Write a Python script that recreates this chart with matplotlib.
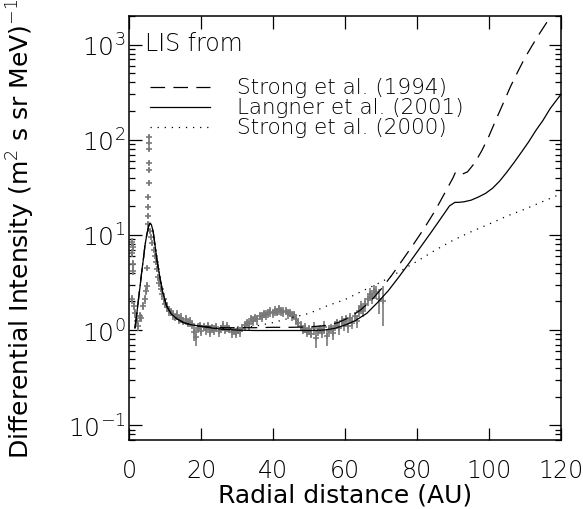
import matplotlib
matplotlib.use('Agg')
import matplotlib.pyplot as plt
import numpy as np

plt.rcParams['font.family'] = ['DejaVu Sans']
plt.rcParams['font.weight'] = 'light'
plt.rcParams['mathtext.fontset'] = 'custom'
plt.rcParams['mathtext.rm'] = 'DejaVu Sans:light'
plt.rcParams['mathtext.it'] = 'DejaVu Sans:light'
plt.rcParams['lines.scale_dashes'] = False

# model curves (LIS from ...)
lang_x = [1.5, 2.0, 2.5, 3.0, 3.4, 3.9, 4.3, 4.8, 5.3, 5.7, 6.1, 6.6, 7.1, 7.6, 8.1, 8.5,
          9.2, 10.3, 11.5, 13.1, 15, 17, 19.6, 23, 26, 30, 35, 40, 45, 50, 54, 57, 60,
          63, 66, 69, 72, 75, 78, 81, 84, 87, 89, 90.5, 91.5, 93, 95, 97, 99, 101, 103,
          105, 107, 109, 111, 113, 115, 117, 119, 120]
lang_y = [1.05, 1.45, 2.1, 3.0, 4.1, 5.7, 7.7, 10, 12.3, 13.3, 12.8, 10.8, 7.8, 5.6, 4.3, 3.5,
          2.55, 1.8, 1.5, 1.32, 1.2, 1.14, 1.1, 1.05, 1.02, 1.0, 0.99, 0.99, 0.99, 0.99, 1.0, 1.04, 1.13,
          1.27, 1.5, 1.95, 2.6, 3.65, 5.2, 7.5, 10.8, 15.7, 20.2, 22, 22, 22.3, 23.2, 25, 27.3, 31, 37,
          46, 58, 74, 95, 125, 160, 213, 268, 300]

s94_x = [1.5, 2.0, 2.5, 3.0, 3.4, 3.9, 4.3, 4.8, 5.3, 5.7, 6.1, 6.6, 7.1, 7.6, 8.1, 8.5,
         9.2, 10.3, 11.5, 13.1, 15, 17, 19.6, 23, 26, 30, 35, 40, 45, 50, 55, 58, 61, 64,
         67, 70, 73, 76, 79, 82, 85, 88, 90, 90.7, 91.5, 92.5, 94, 96, 98, 100, 102, 104,
         106, 108, 110, 112, 114, 116, 118, 120]
s94_y = [1.05, 1.45, 2.1, 3.0, 4.1, 5.7, 7.7, 10, 12.3, 13.3, 12.8, 10.8, 7.8, 5.6, 4.3, 3.5,
         2.55, 1.8, 1.5, 1.32, 1.2, 1.14, 1.1, 1.07, 1.06, 1.06, 1.06, 1.07, 1.07, 1.08, 1.12, 1.2,
         1.35, 1.6, 2.0, 2.7, 3.8, 5.5, 8.0, 11.8, 18, 29, 40, 46, 44.5, 43.5, 46, 57, 77, 110,
         165, 245, 365, 520, 730, 980, 1300, 1700, 2200, 2800]

s00_x = [1.5, 2.0, 2.5, 3.0, 3.4, 3.9, 4.3, 4.8, 5.3, 5.7, 6.1, 6.6, 7.1, 7.6, 8.1, 8.5,
         9.2, 10.3, 11.5, 13.1, 15, 17, 19.6, 23, 26, 30, 35, 40, 45, 50, 55, 60, 65, 70,
         75, 80, 85, 90, 95, 100, 105, 110, 115, 120]
s00_y = [1.05, 1.45, 2.1, 3.0, 4.1, 5.7, 7.7, 10, 12.3, 13.3, 12.8, 10.8, 7.8, 5.6, 4.3, 3.5,
         2.55, 1.8, 1.5, 1.32, 1.2, 1.14, 1.1, 1.06, 1.04, 1.05, 1.1, 1.2, 1.35, 1.5, 1.8, 2.1,
         2.6, 3.2, 4.1, 5.3, 6.9, 8.8, 10.8, 13, 15.8, 18.7, 22.5, 27]

# observations
obs_x = [0.6, 0.7, 0.8, 0.9, 1.0, 1.1, 1.3, 1.6, 2.0, 2.4, 2.9, 3.3, 3.8, 4.2, 4.6, 4.9,
         5.0, 5.1, 5.15, 5.2, 5.25, 5.3, 5.35, 5.4, 5.45, 5.5, 5.55,
         5.8, 6.1, 6.4, 6.7, 7.0, 7.4, 7.7, 8.0, 8.3, 8.7, 9.1, 9.5, 10.0, 10.5, 11.0, 11.5,
         12.0, 12.6, 13.2, 13.8, 14.4, 15.0, 15.6, 16.2, 16.8, 17.4, 18.0, 18.5, 19.0, 19.5,
         20.0, 20.6, 21.2, 21.8, 22.4, 23.0, 23.6, 24.2, 24.8, 25.4, 26.0, 26.6, 27.2, 27.8,
         28.4, 29.0, 29.6, 30.2, 30.8, 31.4, 32.0, 32.6, 33.2, 33.8, 34.4, 35.0, 35.6, 36.2,
         36.8, 37.4, 38.0, 38.6, 39.2, 39.8, 40.4, 41.0, 41.6, 42.2, 42.8, 43.4, 44.0, 44.6,
         45.2, 45.8, 46.4, 47.0, 47.6, 48.2, 48.8, 49.4, 50.0, 50.6, 51.2, 51.8, 52.4, 53.0,
         53.6, 54.2, 54.8, 55.4, 56.0, 56.6, 57.2, 57.8, 58.4, 59.0, 59.6, 60.2, 60.8, 61.4,
         62.0, 62.6, 63.2, 63.8, 64.4, 65.0, 65.6, 66.2, 66.8, 67.4, 68.0, 68.6, 69.3, 70.6]
obs_y = [8.5, 2.1, 6.5, 5.0, 4.2, 7.5, 1.8, 1.5, 1.25, 1.1, 1.4, 1.35, 1.8, 2.1, 2.6, 2.9,
         4.5, 13, 16, 19.8, 25, 35, 48, 57, 80, 92, 106,
         11, 9.5, 8.2, 7.0, 6.0, 5.2, 4.4, 3.6, 3.1, 2.7, 2.4, 2.1, 1.9, 1.75, 1.6, 1.55,
         1.45, 1.38, 1.45, 1.3, 1.35, 1.25, 1.3, 1.2, 1.22, 1.15, 0.95, 0.85, 1.05, 1.1,
         0.98, 1.08, 1.02, 1.1, 0.96, 1.05, 1.0, 1.07, 0.97, 1.04, 1.1, 1.0, 1.08, 1.03,
         0.95, 0.98, 0.93, 1.0, 0.97, 1.05, 1.12, 1.2, 1.15, 1.3, 1.25, 1.35, 1.3, 1.42,
         1.38, 1.48, 1.45, 1.5, 1.55, 1.5, 1.6, 1.55, 1.65, 1.58, 1.55, 1.6, 1.5, 1.52,
         1.42, 1.45, 1.3, 1.2, 1.1, 1.0, 1.05, 0.95, 1.02, 0.92, 1.05, 0.82, 0.98, 1.02,
         0.95, 1.08, 0.86, 1.0, 1.05, 0.93, 1.1, 1.2, 1.05, 1.25, 1.15, 1.3, 1.1, 1.35,
         1.2, 1.4, 1.25, 1.6, 1.75, 1.6, 1.9, 2.1, 2.4, 2.2, 2.6, 2.5, 2.1, 2.0]
obs_err = [0.1, 0.1, 0.1, 0.1, 0.1, 0.1, 0.1, 0.1, 0.12, 0.1, 0.1, 0.1, 0.1, 0.1, 0.1, 0.1,
           0.05, 0.05, 0.05, 0.05, 0.05, 0.05, 0.05, 0.05, 0.05, 0.05, 0.05,
           0.05, 0.05, 0.05, 0.06, 0.06, 0.06, 0.07, 0.08, 0.08, 0.08, 0.1, 0.1, 0.1, 0.12, 0.12, 0.1,
           0.12, 0.1, 0.12, 0.1, 0.12, 0.1, 0.12, 0.1, 0.12, 0.1, 0.2, 0.2, 0.12, 0.1,
           0.12, 0.1, 0.12, 0.1, 0.12, 0.1, 0.12, 0.1, 0.12, 0.1, 0.12, 0.1, 0.12, 0.1,
           0.12, 0.1, 0.12, 0.1, 0.12, 0.1, 0.12, 0.1, 0.12, 0.1, 0.12, 0.1, 0.12, 0.1,
           0.12, 0.1, 0.12, 0.1, 0.12, 0.1, 0.12, 0.1, 0.12, 0.1, 0.12, 0.1, 0.12, 0.1,
           0.12, 0.1, 0.12, 0.1, 0.12, 0.1, 0.12, 0.1, 0.12, 0.1, 0.15, 0.2, 0.12, 0.1,
           0.12, 0.15, 0.2, 0.12, 0.1, 0.15, 0.12, 0.1, 0.15, 0.12, 0.15, 0.12, 0.15, 0.12,
           0.15, 0.12, 0.15, 0.15, 0.15, 0.15, 0.15, 0.15, 0.15, 0.15, 0.15, 0.15, 0.3, 0.45]

y_ticks = [0.1, 1, 10, 100, 1000]
y_ticklabels = [r'$10^{-1}$', r'$10^{0}$', r'$10^{1}$', r'$10^{2}$', r'$10^{3}$']
x_ticks = [0, 20, 40, 60, 80, 100, 120]

fig = plt.figure(figsize=(5.83, 5.10), dpi=100)
ax = fig.add_axes([0.2221, 0.1353, 0.7401, 0.8314])

oy = np.array(obs_y)
ax.errorbar(obs_x, obs_y, yerr=oy * np.array(obs_err), fmt='+', color='#7a7a7a',
            ms=5, mew=1.2, elinewidth=1.2, capsize=0, zorder=2)

styles = [dict(dashes=(10.5, 6)), dict(), dict(dashes=(0.9, 4.2))]
names = ['Strong et al. (1994)', 'Langner et al. (2001)', 'Strong et al. (2000)']
for (cx, cy), st in zip([(s94_x, s94_y), (lang_x, lang_y), (s00_x, s00_y)], styles):
    ax.plot(cx, cy, color='black', lw=0.9, zorder=3, **st)

# legend drawn by hand, in axes fractions
ax.text(0.036, 0.936, 'LIS from', transform=ax.transAxes, fontsize=17,
        ha='left', va='center')
for i, (name, st) in enumerate(zip(names, styles)):
    yy = 0.8325 - i * 0.0471
    ax.plot([0.0475, 0.1866], [yy, yy], transform=ax.transAxes, color='black',
            lw=0.9, **st)
    ax.text(0.249, yy, name, transform=ax.transAxes, fontsize=15.5,
            ha='left', va='center')

ax.set_yscale('log')
ax.set_xlim(0, 120)
ax.set_ylim(0.07, 2000)
ax.set_yticks(y_ticks, labels=y_ticklabels)
ax.set_xticks(x_ticks)
ax.tick_params(axis='both', which='major', direction='in', length=9, width=0.9,
               top=True, right=True, labelsize=17)
ax.tick_params(axis='x', pad=13)
ax.tick_params(axis='y', pad=3, labelsize=18)
ax.tick_params(axis='y', which='minor', direction='in', length=4.5, width=0.9,
               left=True, right=True)
for s in ax.spines.values():
    s.set_linewidth(1.1)

ax.set_xlabel('Radial distance (AU)', fontsize=18)
ax.set_ylabel(r'Differential Intensity (m$^{2}$ s sr MeV)$^{-1}$', fontsize=18)
ax.xaxis.set_label_coords(0.5, -0.1)
ax.yaxis.set_label_coords(-0.215, 0.5)

fig.savefig('out.png', dpi=100)
